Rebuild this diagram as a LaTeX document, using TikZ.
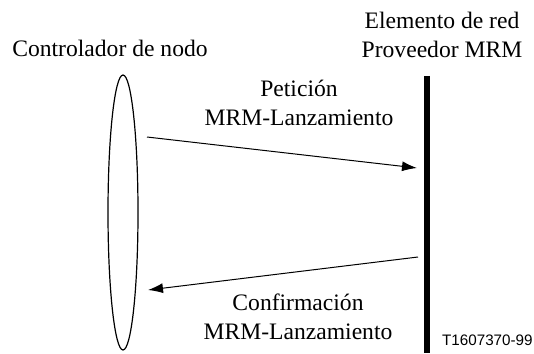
\documentclass[tikz,border=0pt]{standalone}
\usepackage{fontspec}
\setmainfont{Liberation Serif}
\newfontfamily\codefont{Liberation Sans}
\usetikzlibrary{arrows.meta,shapes.geometric}

\tikzset{
  lbl/.style={font=\fontsize{11.8}{14.5}\selectfont, align=center, inner sep=0pt},
  msg/.style={line width=0.5pt, -{Latex[length=7.5pt,width=5pt]}}
}

\begin{document}
\begin{tikzpicture}[x=0.5pt, y=-0.5pt]
\useasboundingbox (0,0) rectangle (534,353);
% entities
\node[lbl] (ctrl) at (110,48) {Controlador de nodo};
\node[lbl] (elem) at (442,35) {Elemento de red\\Proveedor MRM};
\node[draw, ellipse, line width=0.6pt, minimum width=15pt, minimum height=137.5pt, inner sep=0pt] (nodo) at (123,212.5) {};
\coordinate (bartop) at (427,76);
\coordinate (barbot) at (427,353);
\draw[line width=3pt] (bartop) -- (barbot);
% messages
\coordinate (req1) at (147,137);
\coordinate (req2) at (417,168);
\coordinate (cnf1) at (418,257);
\coordinate (cnf2) at (148,290);
\draw[msg] (req1) -- (req2);
\draw[msg] (cnf1) -- (cnf2);
\node[lbl] (pet) at (299,103) {Petición\\MRM-Lanzamiento};
\node[lbl] (conf) at (298,316.5) {Confirmación\\MRM-Lanzamiento};
\node[font=\codefont\fontsize{7.6}{9}\selectfont, inner sep=0pt, anchor=east] (code) at (533,340) {T1607370-99};
\end{tikzpicture}
\end{document}
